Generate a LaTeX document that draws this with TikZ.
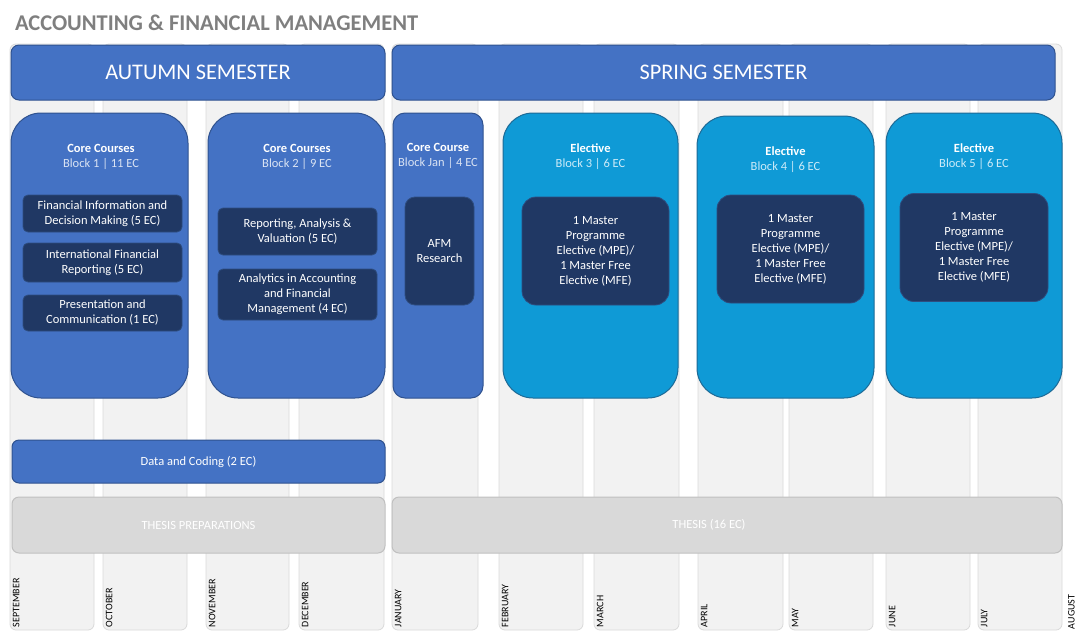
\documentclass[tikz,border=0pt]{standalone}
\usepackage{fontspec}
\setmainfont{Carlito}
\usepackage{xcolor}
\usetikzlibrary{positioning}

\definecolor{coreblue}{HTML}{4472C4}
\definecolor{coreedge}{HTML}{2F528F}
\definecolor{elecblue}{HTML}{0F9AD6}
\definecolor{elecedge}{HTML}{1D6A96}
\definecolor{navy}{HTML}{203864}
\definecolor{navyedge}{HTML}{2E4D80}
\definecolor{colfill}{HTML}{F2F2F2}
\definecolor{coledge}{HTML}{D9D9D9}
\definecolor{thesisfill}{HTML}{D9D9D9}
\definecolor{thesisedge}{HTML}{C0C0C0}
\definecolor{titlegray}{HTML}{7F7F7F}
\definecolor{subcore}{HTML}{DAE3F3}
\definecolor{subelec}{HTML}{CDEBF8}

\begin{document}
\begin{tikzpicture}[
    x=1pt, y=-1pt, % pixel grid, y down
    every node/.style={inner sep=0pt, outer sep=0pt},
    monthcol/.style={rectangle, rounded corners=6pt, fill=colfill, draw=coledge, line width=0.8pt, minimum height=586pt},
    month/.style={rotate=90, anchor=north west, text=black, font=\fontsize{10}{12}\selectfont},
    semester/.style={rectangle, rounded corners=8pt, fill=coreblue, draw=coreedge, line width=1pt, minimum height=55pt, text=white, font=\fontsize{22.3}{25}\selectfont},
    block/.style={rectangle, rounded corners=30pt, fill=coreblue, draw=coreedge, line width=1pt, minimum height=285pt},
    elective/.style={block, fill=elecblue, draw=elecedge},
    head/.style={align=center, text=white, font=\fontsize{12.5}{15}\selectfont},
    course/.style={rectangle, rounded corners=5pt, fill=navy, draw=navyedge, line width=0.8pt, align=center, text=white, font=\fontsize{12.5}{15}\selectfont, minimum width=159pt},
    option/.style={course, rounded corners=14pt, minimum height=108pt},
    bar/.style={rectangle, rounded corners=7pt, fill=coreblue, draw=coreedge, line width=1pt, text=white, font=\fontsize{12.5}{15}\selectfont},
    thesis/.style={bar, fill=thesisfill, draw=thesisedge}
]
    \useasboundingbox (0,0) rectangle (1078,632);

    % month columns in the background
    \foreach \name/\l/\r in {sep/10/94, oct/103/187, nov/206/289, dec/299/384, jan/392/478, feb/499/583,
                             mar/594/679, apr/698/783, may/789/873, jun/886/970, jul/978/1062}
        \node[monthcol, minimum width={(\r-\l)*1pt}] (\name) at ({(\l+\r)/2},337) {};
    \foreach \name/\txt in {sep/SEPTEMBER, oct/OCTOBER, nov/NOVEMBER, dec/DECEMBER, jan/JANUARY, feb/FEBRUARY,
                            mar/MARCH, apr/APRIL, may/MAY, jun/JUNE, jul/JULY}
        \node[month] (\name-lbl) at ([xshift=3pt, yshift=3pt]\name.south west) {\txt};
    \node[month] (aug-lbl) at (1068,629) {AUGUST};

    % title and semesters
    \node[anchor=base west, text=titlegray, font=\bfseries\fontsize{22.5}{26}\selectfont] (title) at (15,30) {ACCOUNTING \& FINANCIAL MANAGEMENT};
    \node[semester, minimum width=374pt] (autumn) at (198,72.5) {AUTUMN SEMESTER};
    \node[semester, minimum width=663pt] (spring) at (723.5,72.5) {SPRING SEMESTER};

    % blocks
    \node[block, minimum width=177pt] (blk1) at (99.5,255.5) {};
    \node[block, minimum width=177pt] (blk2) at (296.5,255.5) {};
    \node[block, minimum width=90pt, rounded corners=12pt] (blkjan) at (438,255.5) {};
    \node[elective, minimum width=175pt] (blk3) at (590.5,255.5) {};
    \node[elective, minimum width=177pt, minimum height=282pt] (blk4) at (785.5,257) {};
    \node[elective, minimum width=176pt] (blk5) at (974,255.5) {};

    \node[head] (head1) at (101,157) {\textbf{Core Courses}\\\textcolor{subcore}{Block 1 | 11 EC}};
    \node[head] (head2) at (297,157) {\textbf{Core Courses}\\\textcolor{subcore}{Block 2 | 9 EC}};
    \node[head] (headjan) at (438,155.5) {\textbf{Core Course}\\\textcolor{subcore}{Block Jan | 4 EC}};
    \node[head] (head3) at (590.5,157) {\textbf{Elective}\\\textcolor{subelec}{Block 3 | 6 EC}};
    \node[head] (head4) at (785.5,160) {\textbf{Elective}\\\textcolor{subelec}{Block 4 | 6 EC}};
    \node[head] (head5) at (974,157) {\textbf{Elective}\\\textcolor{subelec}{Block 5 | 6 EC}};

    % courses
    \node[course, minimum height=37pt] (fin) at (102.5,213.5) {Financial Information and\\Decision Making (5 EC)};
    \node[course, minimum height=39pt, below=11pt of fin] (ifr) {International Financial\\Reporting (5 EC)};
    \node[course, minimum height=36pt, below=13pt of ifr] (pres) {Presentation and\\Communication (1 EC)};

    \node[course, minimum height=47pt] (rav) at (297.5,231.5) {Reporting, Analysis \&\\Valuation (5 EC)};
    \node[course, minimum height=51pt, below=14pt of rav] (aafm) {Analytics in Accounting\\and Financial\\Management (4 EC)};

    \node[option, minimum width=69pt, rounded corners=10pt] (afm) at (439.5,251) {AFM\\Research};
    \node[option, minimum width=147pt] (mpe3) at (595.5,251) {1 Master\\Programme\\Elective (MPE)/\\1 Master Free\\Elective (MFE)};
    \node[option, minimum width=147pt] (mpe4) at (790.5,249) {1 Master\\Programme\\Elective (MPE)/\\1 Master Free\\Elective (MFE)};
    \node[option, minimum width=148pt] (mpe5) at (974,247.5) {1 Master\\Programme\\Elective (MPE)/\\1 Master Free\\Elective (MFE)};

    % bottom bars
    \node[bar, minimum width=373pt, minimum height=43pt] (data) at (198.5,461.5) {Data and Coding (2 EC)};
    \node[thesis, minimum width=373pt, minimum height=56pt] (prep) at (198.5,525) {THESIS PREPARATIONS};
    \node[thesis, minimum width=670pt, minimum height=56pt] (thesis) at (727,525) {};
    \node[text=white, font=\fontsize{12.5}{15}\selectfont] (thesislbl) at ([xshift=-18pt]thesis.center) {THESIS (16 EC)};
\end{tikzpicture}
\end{document}
